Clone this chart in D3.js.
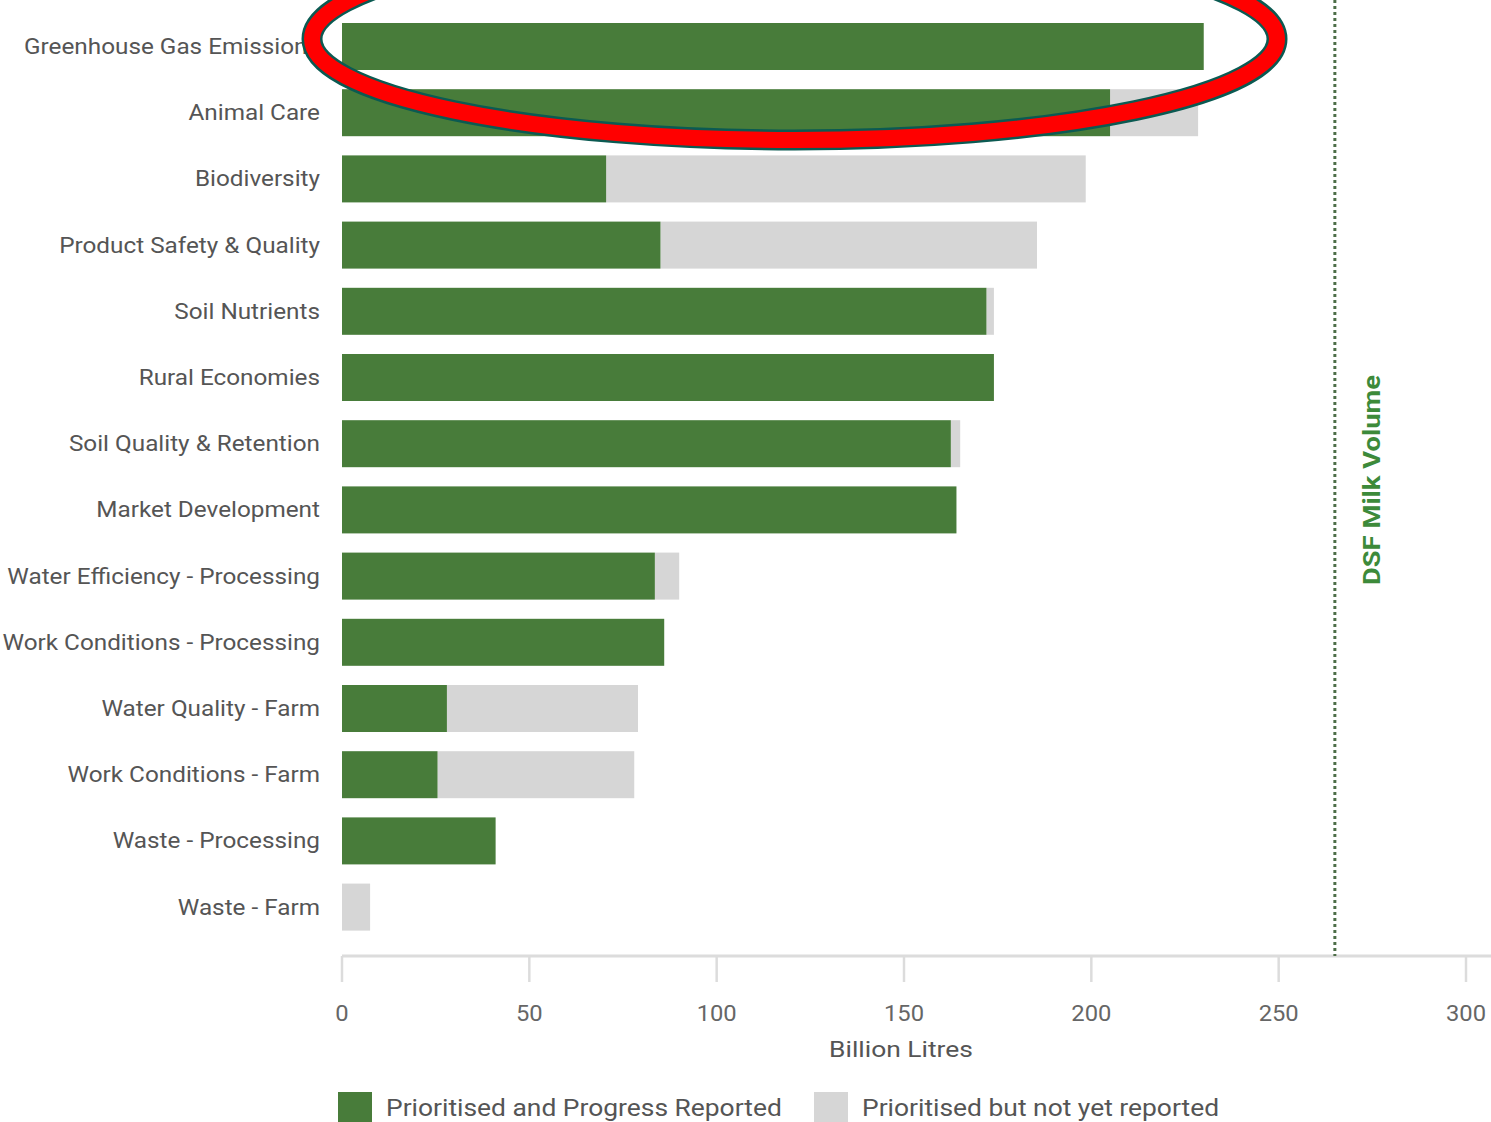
<!DOCTYPE html>
<html><head><meta charset="utf-8">
<script src="https://cdn.jsdelivr.net/npm/d3@7"></script>
<style>
html,body{margin:0;padding:0;background:#fff;}
svg{display:block;font-family:Roboto,"Noto Sans",sans-serif;}
</style></head>
<body>
<svg id="chart" width="1491" height="1122"></svg>
<script>
const categories = ["Greenhouse Gas Emissions","Animal Care","Biodiversity","Product Safety & Quality","Soil Nutrients","Rural Economies","Soil Quality & Retention","Market Development","Water Efficiency - Processing","Work Conditions - Processing","Water Quality - Farm","Work Conditions - Farm","Waste - Processing","Waste - Farm"];
const reported = [230, 205, 70.5, 85, 172, 174, 162.5, 164, 83.5, 86, 28, 25.5, 41, 0];
const notYetReported = [0, 23.5, 128, 100.5, 2, 0, 2.5, 0, 6.5, 0, 51, 52.5, 0, 7.5];
const xTicks = [0, 50, 100, 150, 200, 250, 300];
const dsfMilkVolume = 265;
const seriesNames = ["Prioritised and Progress Reported", "Prioritised but not yet reported"];
const axisTitle = "Billion Litres";
const refLabel = "DSF Milk Volume";

const GREEN = "#487c3a", GREY = "#d6d6d6", TEXT = "#555";
const svg = d3.select("#chart");

const x = d3.scaleLinear().domain([0, 300]).range([342, 1466]);
const y = d3.scaleBand().domain(categories).range([13.4, 940.2]).paddingInner(0.29).paddingOuter(0.145);

const rows = categories.map((c, i) => ({c, r: reported[i], n: notYetReported[i]}));

// stretched text helper (reference text is horizontally wide)
function wideText(sel, sx) {
  return sel.attr("transform", function(d) {
    const tx = +this.getAttribute("data-x"), ty = +this.getAttribute("data-y");
    return `translate(${tx},${ty}) scale(${sx},1)`;
  });
}

// grey (not yet reported) segments
svg.append("g").selectAll("rect").data(rows).join("rect")
  .attr("x", d => x(d.r)).attr("width", d => x(d.r + d.n) - x(d.r))
  .attr("y", d => y(d.c)).attr("height", y.bandwidth())
  .attr("fill", GREY);
// green (reported) segments
svg.append("g").selectAll("rect").data(rows).join("rect")
  .attr("x", x(0)).attr("width", d => x(d.r) - x(0))
  .attr("y", d => y(d.c)).attr("height", y.bandwidth())
  .attr("fill", GREEN);

// category labels
svg.append("g").selectAll("text").data(rows).join("text")
  .attr("transform", d => `translate(320,${y(d.c) + y.bandwidth() / 2}) scale(1.13,1)`)
  .attr("dy", "0.35em").attr("text-anchor", "end")
  .attr("font-size", 21.5).attr("fill", TEXT).text(d => d.c);

// x axis
const axisY = 956;
const ax = svg.append("g");
ax.append("line").attr("x1", x(0)).attr("x2", 1491).attr("y1", axisY).attr("y2", axisY)
  .attr("stroke", "#dcdcdc").attr("stroke-width", 3);
ax.selectAll("line.tick").data(xTicks).join("line").attr("class", "tick")
  .attr("x1", d => x(d)).attr("x2", d => x(d)).attr("y1", axisY).attr("y2", axisY + 26)
  .attr("stroke", "#dcdcdc").attr("stroke-width", 2.5);
ax.selectAll("text").data(xTicks).join("text")
  .attr("transform", d => `translate(${x(d)},1021) scale(1.08,1)`)
  .attr("text-anchor", "middle")
  .attr("font-size", 22).attr("fill", "#666").text(d => d);
svg.append("text").attr("transform", "translate(901,1057) scale(1.2,1)").attr("text-anchor", "middle")
  .attr("font-size", 22).attr("fill", TEXT).text(axisTitle);

// DSF milk volume reference line
svg.append("line").attr("x1", x(dsfMilkVolume)).attr("x2", x(dsfMilkVolume))
  .attr("y1", 0).attr("y2", axisY)
  .attr("stroke", "#4d6e48").attr("stroke-width", 3).attr("stroke-dasharray", "3,3");
svg.append("text")
  .attr("transform", `translate(${x(dsfMilkVolume) + 45},480) rotate(-90) scale(1.19,1)`)
  .attr("text-anchor", "middle").attr("font-size", 23).attr("font-weight", "bold")
  .attr("fill", "#3d8a3a").text(refLabel);

// legend
const lg = svg.append("g");
[[338, GREEN, seriesNames[0]], [814, GREY, seriesNames[1]]].forEach(([lx, col, t]) => {
  lg.append("rect").attr("x", lx).attr("y", 1092).attr("width", 34).attr("height", 32).attr("fill", col);
  lg.append("text").attr("transform", `translate(${lx + 48},1116) scale(1.1,1)`)
    .attr("font-size", 24).attr("fill", TEXT).text(t);
});

// red highlight ellipse
svg.append("ellipse").attr("cx", 794.5).attr("cy", 39).attr("rx", 482.5).attr("ry", 101)
  .attr("fill", "none").attr("stroke", "#0b5a52").attr("stroke-width", 21);
svg.append("ellipse").attr("cx", 794.5).attr("cy", 39).attr("rx", 482.5).attr("ry", 101)
  .attr("fill", "none").attr("stroke", "#ff0000").attr("stroke-width", 16);
</script>
</body></html>
